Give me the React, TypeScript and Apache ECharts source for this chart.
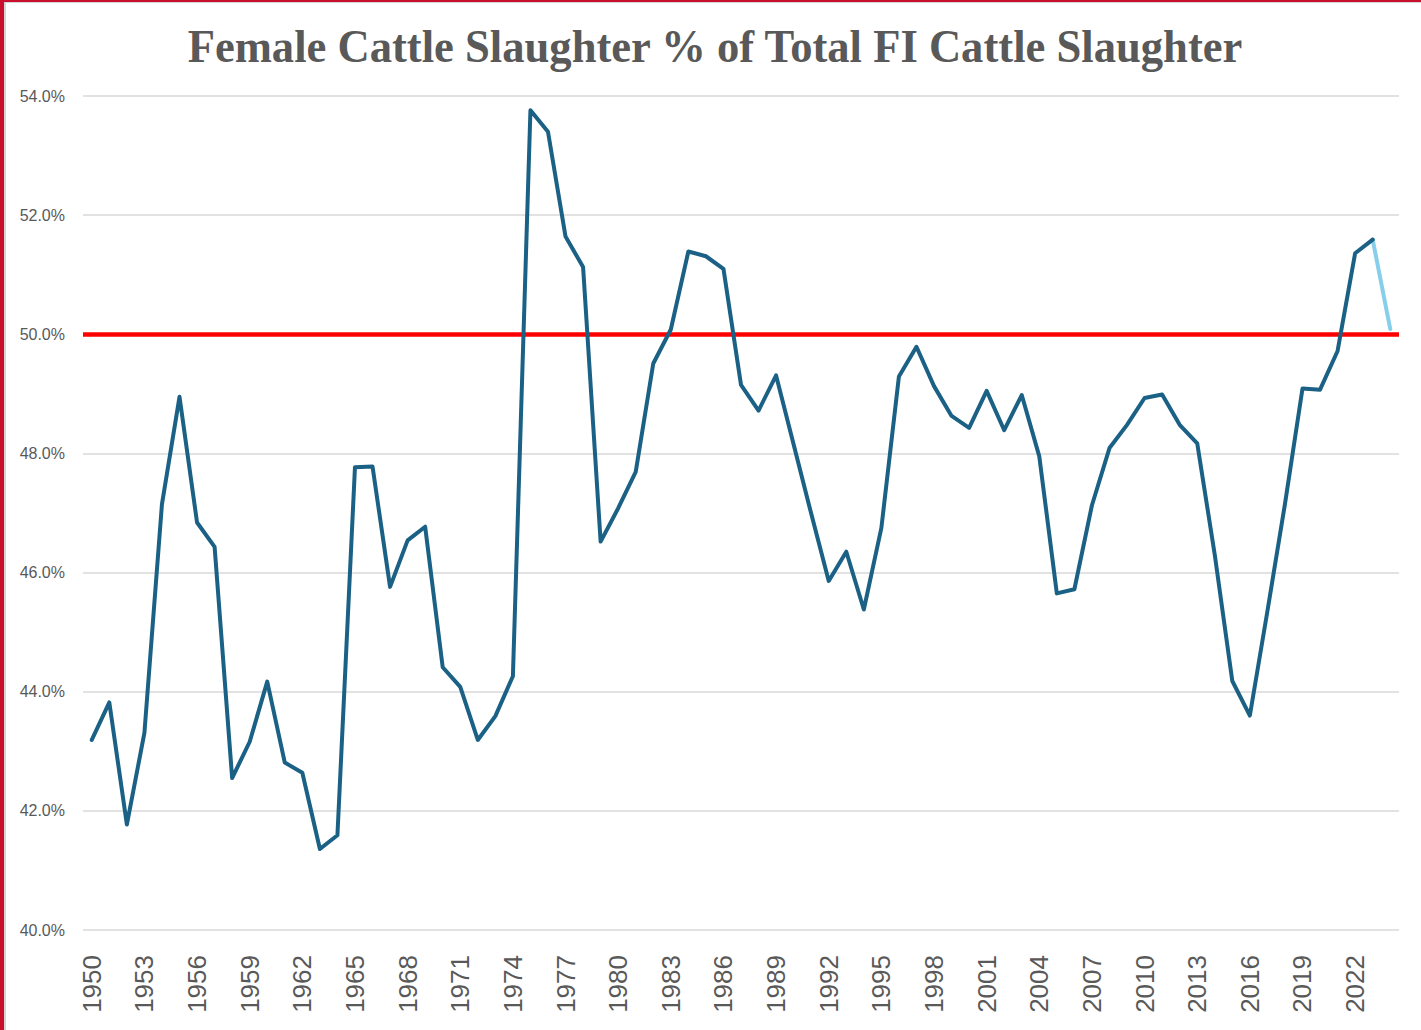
import React, { useEffect, useRef } from "react";
import * as echarts from "echarts";

const TITLE = "Female Cattle Slaughter % of Total FI Cattle Slaughter";
const FIRST_YEAR = 1950;
const LAST_YEAR = 2024;
const years: string[] = [];
for (let y = FIRST_YEAR; y <= LAST_YEAR; y++) years.push(String(y));

// Female share of total FI cattle slaughter, % (1950–2023)
const femaleShare: number[] = [
  43.19, 43.82, 41.77, 43.31, 47.15, 48.95, 46.84, 46.43, 42.55, 43.16,
  44.17, 42.81, 42.64, 41.36, 41.59, 47.77, 47.78, 45.76, 46.54, 46.77,
  44.41, 44.08, 43.19, 43.59, 44.26, 53.76, 53.4, 51.64, 51.13, 46.52,
  47.08, 47.69, 49.51, 50.08, 51.39, 51.31, 51.1, 49.15, 48.72, 49.31,
  48.15, 46.99, 45.86, 46.35, 45.38, 46.75, 49.29, 49.79, 49.13, 48.63,
  48.43, 49.05, 48.39, 48.98, 47.95, 45.65, 45.72, 47.13, 48.09, 48.48,
  48.93, 48.99, 48.48, 48.17, 46.3, 44.18, 43.6, 45.35, 47.15, 49.09,
  49.07, 49.72, 51.36, 51.59,
];
// Forecast segment 2023 -> 2024
const forecastYears = ["2023", "2024"];
const forecastValues = [51.59, 50.09];
const referenceLevel = 50;

const Y_MIN = 40;
const Y_MAX = 54;
const Y_STEP = 2;

export default function App() {
  const ref = useRef<HTMLDivElement>(null);

  useEffect(() => {
    document.body.style.margin = "0";
    if (!ref.current) return;
    const chart = echarts.init(ref.current, undefined, { renderer: "svg" });

    const mainData = years.map((y, i) => (i < femaleShare.length ? femaleShare[i] : null));
    const fcData = years.map((y) => {
      const k = forecastYears.indexOf(y);
      return k >= 0 ? forecastValues[k] : null;
    });

    chart.setOption({
      animation: false,
      backgroundColor: "#ffffff",
      grid: { left: 83, right: 22, top: 96, bottom: 100, containLabel: false },
      graphic: [
        { type: "rect", left: 0, top: 0, shape: { width: 1421, height: 2 }, style: { fill: "#C8102E" }, silent: true },
        { type: "rect", left: 0, top: 2, shape: { width: 1421, height: 1 }, style: { fill: "#d4d4d4" }, silent: true },
        { type: "rect", left: 0, top: 0, shape: { width: 4, height: 1030 }, style: { fill: "#C8102E" }, silent: true },
        { type: "rect", left: 4, top: 2, shape: { width: 2, height: 1028 }, style: { fill: "#d4d4d4" }, silent: true },
        {
          type: "text",
          x: 715,
          y: 47,
          scaleX: 0.97,
          style: {
            text: TITLE,
            fontFamily: "Liberation Serif",
            fontWeight: "bold",
            fontSize: 46,
            fill: "#595959",
            textAlign: "center",
            textVerticalAlign: "middle",
          },
        },
      ],
      xAxis: {
        type: "category",
        data: years,
        boundaryGap: true,
        axisLine: { show: false },
        axisTick: { show: false },
        axisLabel: {
          interval: 2,
          rotate: 90,
          margin: 25,
          fontFamily: "Liberation Sans",
          fontSize: 26,
          color: "#595959",
        },
        splitLine: { show: false },
      },
      yAxis: {
        type: "value",
        min: Y_MIN,
        max: Y_MAX,
        interval: Y_STEP,
        axisLine: { show: false },
        axisTick: { show: false },
        axisLabel: {
          margin: 18,
          fontFamily: "Liberation Sans",
          fontSize: 16,
          color: "#595959",
          formatter: (v: number) => v.toFixed(1) + "%",
        },
        splitLine: { show: true, lineStyle: { color: "#d9d9d9", width: 1.5 } },
      },
      series: [
        {
          name: "Female share",
          type: "line",
          data: mainData,
          symbol: "none",
          lineStyle: { color: "#1b6185", width: 4, join: "round", cap: "round" },
          z: 3,
          markLine: {
            silent: true,
            symbol: "none",
            label: { show: false },
            lineStyle: { color: "#ff0000", width: 4.5, type: "solid" },
            data: [{ yAxis: referenceLevel }],
            z: 2,
          },
        },
        {
          name: "Forecast",
          type: "line",
          data: fcData,
          symbol: "none",
          connectNulls: false,
          lineStyle: { color: "#87ceeb", width: 4, cap: "round" },
          z: 2,
        },
      ],
    });

    return () => chart.dispose();
  }, []);

  return <div ref={ref} style={{ width: 1421, height: 1030 }} />;
}
